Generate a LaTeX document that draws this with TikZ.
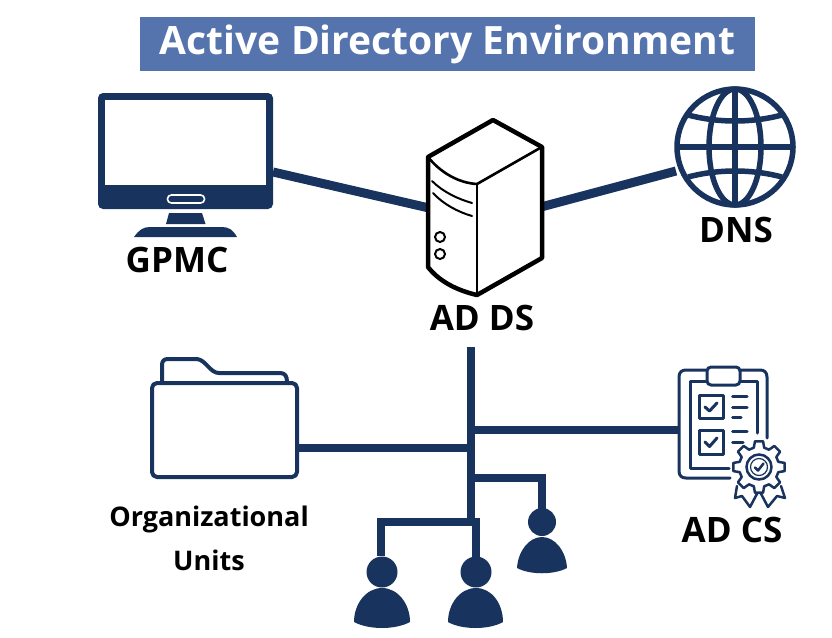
\documentclass[tikz,border=0pt]{standalone}
\usepackage{fontspec}
\setmainfont{Open Sans}
\definecolor{navy}{HTML}{19335F}
\definecolor{titleblue}{HTML}{5574AE}
\tikzset{
  link/.style={draw=navy,line width=9pt,line cap=butt},
  tree/.style={draw=navy,line width=8.5pt,line cap=butt,line join=miter},
  caption/.style={font=\bfseries\fontsize{35}{35}\selectfont,text=black,inner sep=0pt},
  smallcap/.style={font=\bfseries\fontsize{27}{27}\selectfont,text=black,inner sep=0pt},
  icon/.style={draw=navy,line width=3pt,line cap=round,line join=round},
  srv/.style={draw=black,line width=4.5pt,line join=round,line cap=round},
  srvthin/.style={draw=black,line width=2pt,line cap=round}
}
\begin{document}
\begin{tikzpicture}[x=1pt,y=-1pt]
\useasboundingbox (0,0) rectangle (832,637);
\fill[white] (0,0) rectangle (832,637);
% title
\node[fill=titleblue,text=white,minimum width=615pt,minimum height=54pt,inner sep=0pt,
  font=\bfseries\fontsize{39}{39}\selectfont] (title) at (447.5,44) {Active Directory Environment};
% anchor points
\coordinate (gpmcport) at (273,172);
\coordinate (srvleft) at (429,208);
\coordinate (srvright) at (541,207);
\coordinate (dnsport) at (676,171);
\coordinate (trunktop) at (471,347);
\coordinate (trunkfoot) at (471,522);
\coordinate (csjoin) at (471,430);
\coordinate (csport) at (680,430);
\coordinate (oujoin) at (471,448);
\coordinate (ouport) at (296,448);
\coordinate (ujoinr) at (471,478);
\coordinate (ucorner) at (542,478);
\coordinate (userc) at (542,509);
\coordinate (ucornera) at (381,522);
\coordinate (usera) at (381,556);
\coordinate (ucornerb) at (476,522);
\coordinate (userb) at (476,557);
% connectors
\draw[link] (gpmcport) -- (srvleft);
\draw[link] (srvright) -- (dnsport);
\draw[tree] (trunktop) -- (trunkfoot);
\draw[tree] (csjoin) -- (csport);
\draw[tree] (oujoin) -- (ouport);
\draw[tree] (ujoinr) -- (ucorner) -- (userc);
\draw[tree] (usera) -- (ucornera) -- (ucornerb) -- (userb);
% monitor
\fill[navy,rounded corners=5pt] (98,93) rectangle (273,209);
\fill[white] (105,100) rectangle (266,185);
\draw[white,line width=1.6pt,rounded corners=3.8pt] (167.5,195) rectangle (204.5,203);
\fill[navy] (169,213) -- (202,213) -- (205.5,224) -- (166,224) -- cycle;
\fill[navy] (134,237) .. controls (139,230) and (143,227) .. (150,227) -- (222,227) .. controls (229,227) and (233,230) .. (237,237) -- cycle;
\node[caption] (gpmc) at (177,260) {GPMC};
% server
\fill[white] (493,120) -- (542,147) -- (542,258) -- (477,295) .. controls (455,290) and (438,280) .. (428,267) -- (428,157) -- cycle;
\draw[srv] (493,120) -- (542,147) -- (542,258) -- (477,295) .. controls (455,290) and (438,280) .. (428,267) -- (428,157) -- cycle;
\draw[srvthin,line width=2.6pt] (428,157) .. controls (440,172) and (458,183) .. (477,184) -- (540,148);
\draw[srvthin,line width=2.6pt] (477,184) -- (477,295);
\draw[srvthin] (432,181) .. controls (443,192) and (458,199) .. (472,203);
\draw[srvthin] (433,193) .. controls (443,204) and (458,212) .. (472,216);
\draw[srvthin] (440,237) circle (5);
\draw[srvthin] (440,254) circle (5);
\node[caption] (adds) at (482,318) {AD DS};
% globe
\begin{scope}[draw=navy,line width=5.5pt]
\draw (735,147) circle (58);
\draw (735,147) ellipse (26 and 58);
\draw (735,89) -- (735,205);
\draw (677,147) -- (793,147);
\draw (688,115) .. controls (703,119) and (719,121) .. (735,121) .. controls (751,121) and (767,119) .. (782,115);
\draw (688,177) .. controls (703,173) and (719,171) .. (735,171) .. controls (751,171) and (767,173) .. (782,177);
\end{scope}
\node[caption] (dns) at (736,230) {DNS};
% folder
\draw[icon,line width=4pt,fill=white,rounded corners=5pt] (152,383) rectangle (297,477);
\draw[icon,line width=4pt] (162,382) -- (162,365) .. controls (162,361) and (164,359) .. (168,359) -- (197,359)
  .. controls (206,360) and (210,373) .. (219,373) -- (280,373) .. controls (285,373) and (287,376) .. (287,382);
\node[smallcap] (ou1) at (209,519) {Organizational};
\node[smallcap] (ou2) at (209,560) {Units};
% clipboard
\draw[icon] (767,438) -- (767,377) .. controls (767,372) and (764,370) .. (760,370) -- (741,370);
\draw[icon] (706,370) -- (686,370) .. controls (682,370) and (679,372) .. (679,377) -- (679,471) .. controls (679,476) and (682,478) .. (686,478) -- (730,478);
\draw[icon,fill=white,rounded corners=4pt] (707,367) rectangle (740,385);
\draw[icon] (707,381) -- (690,381) -- (690,468) -- (729,468);
\draw[icon] (740,381) -- (757,381) -- (757,433);
\draw[icon] (699,395) rectangle (723,418);
\draw[icon] (699,430) rectangle (723,454);
\draw[icon] (705,407) -- (709.5,411) -- (717,403);
\draw[icon] (705,442) -- (709.5,446.5) -- (717,438);
\draw[icon] (732.5,396) -- (747,396);
\draw[icon] (732.5,407) -- (747,407);
\draw[icon] (732.5,417.5) -- (741,417.5);
\draw[icon] (732.5,431) -- (747,431);
\draw[icon] (732.5,442) -- (743,442);
% ribbons
\draw[icon,line width=2.5pt,fill=white] (737,486) -- (735,498) -- (742,496) -- (750,507) -- (759,490);
\draw[icon,line width=2.5pt,fill=white] (781,486) -- (785,498) -- (777,496) -- (768,507) -- (759,490);
% gear
\begin{scope}[shift={(759,467)}]
\fill[white] (0,0) circle (21);
\foreach \a in {0,45,...,315} {
  \draw[icon,line width=2.5pt,fill=white] (\a-15:20) -- (\a-9:26) -- (\a+9:26) -- (\a+15:20) -- (\a+30:20);
}
\draw[draw=navy,line width=2.5pt] (0,0) circle (12.5);
\draw[draw=navy,line width=1.2pt] (0,0) circle (8.5);
\draw[icon,line width=2.5pt] (-4,0.5) -- (-1,3.5) -- (4.5,-3.5);
\end{scope}
\node[caption] (adcs) at (732,530) {AD CS};
% people
\fill[navy] (382,572) circle (15.5);
\fill[navy] (354,622) .. controls (354,604) and (366,588) .. (382,588) .. controls (398,588) and (410,604) .. (410,622) .. controls (395,630) and (369,630) .. (354,622) -- cycle;
\fill[navy] (476,572) circle (15.5);
\fill[navy] (448,622) .. controls (448,604) and (460,588) .. (476,588) .. controls (492,588) and (503,604) .. (503,622) .. controls (489,630) and (462,630) .. (448,622) -- cycle;
\fill[navy] (542,522) circle (14);
\fill[navy] (517,568) .. controls (518,551) and (529,537) .. (542,537) .. controls (555,537) and (566,551) .. (567,568) .. controls (554,575) and (530,575) .. (517,568) -- cycle;
\end{tikzpicture}
\end{document}
